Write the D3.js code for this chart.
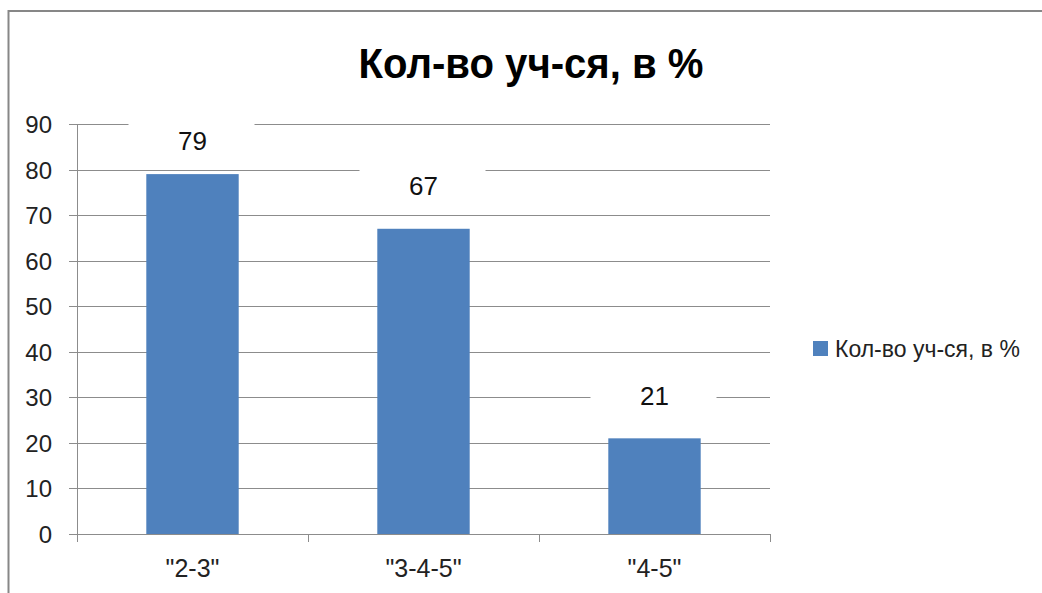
<!DOCTYPE html>
<html>
<head>
<meta charset="utf-8">
<script src="https://cdn.jsdelivr.net/npm/d3@7"></script>
<style>
  body { margin: 0; background: #fff; }
  svg { display: block; }
</style>
</head>
<body>
<div id="chart"></div>
<script>
// data
const categories = ['"2-3"', '"3-4-5"', '"4-5"'];
const values = [79, 67, 21];
const yTicks = [0, 10, 20, 30, 40, 50, 60, 70, 80, 90];
const seriesName = "Кол-во уч-ся, в %";
const title = "Кол-во уч-ся, в %";

const width = 1042;
const height = 593;
const plot = { left: 77, right: 770, top: 124, bottom: 534 };
const barColor = "#4F81BD";
const gridColor = "#8c8c8c";
const font = "'Liberation Sans', Arial, sans-serif";

const svg = d3.select("#chart").append("svg")
    .attr("width", width)
    .attr("height", height);

// outer frame
svg.append("rect")
    .attr("x", 8.5)
    .attr("y", 11)
    .attr("width", width + 20)
    .attr("height", height + 20)
    .attr("fill", "#fff")
    .attr("stroke", "#878787")
    .attr("stroke-width", 2);

svg.append("text")
    .attr("x", 531)
    .attr("y", 78)
    .attr("text-anchor", "middle")
    .style("font-family", font)
    .style("font-weight", "bold")
    .style("font-size", "42px")
    .attr("textLength", 345)
    .attr("lengthAdjust", "spacingAndGlyphs")
    .text(title);

const x = d3.scaleBand()
    .domain(categories)
    .range([plot.left, plot.right])
    .paddingInner(0.6)
    .paddingOuter(0.3);

const y = d3.scaleLinear()
    .domain([0, 90])
    .range([plot.bottom, plot.top]);

// gridlines + y ticks
const yAxis = svg.append("g")
    .attr("transform", "translate(" + plot.left + ",0)")
    .call(d3.axisLeft(y).tickValues(yTicks).tickSize(8).tickPadding(17));
yAxis.select(".domain").remove();
yAxis.selectAll(".tick line").attr("stroke", gridColor);
yAxis.selectAll(".tick text")
    .style("font-family", font)
    .style("font-size", "24px")
    .attr("fill", "#222")
    .attr("dy", "0.36em");

svg.append("g")
    .selectAll("line")
    .data(yTicks.filter(d => d > 0))
    .enter().append("line")
    .attr("x1", plot.left)
    .attr("x2", plot.right)
    .attr("y1", d => Math.round(y(d)) + 0.5)
    .attr("y2", d => Math.round(y(d)) + 0.5)
    .attr("stroke", gridColor)
    .attr("stroke-width", 1);

yAxis.selectAll(".tick").attr("transform", d => "translate(0," + (Math.round(y(d)) + 0.5) + ")");

// bars
svg.selectAll(".bar")
    .data(values)
    .enter().append("rect")
    .attr("class", "bar")
    .attr("x", (d, i) => x(categories[i]))
    .attr("width", x.bandwidth())
    .attr("y", d => y(d))
    .attr("height", d => y(0) - y(d))
    .attr("fill", barColor);

// axes lines
svg.append("line")
    .attr("x1", plot.left + 0.5).attr("x2", plot.left + 0.5)
    .attr("y1", plot.top).attr("y2", plot.bottom + 8)
    .attr("stroke", gridColor);
svg.append("line")
    .attr("x1", plot.left - 8).attr("x2", plot.right)
    .attr("y1", plot.bottom + 0.5).attr("y2", plot.bottom + 0.5)
    .attr("stroke", gridColor);

const step = (plot.right - plot.left) / categories.length;
svg.append("g")
    .selectAll("line")
    .data(categories)
    .enter().append("line")
    .attr("x1", (d, i) => Math.round(plot.left + step * (i + 1)) + 0.5)
    .attr("x2", (d, i) => Math.round(plot.left + step * (i + 1)) + 0.5)
    .attr("y1", plot.bottom)
    .attr("y2", plot.bottom + 8)
    .attr("stroke", gridColor);

// category labels
svg.append("g")
    .selectAll("text")
    .data(categories)
    .enter().append("text")
    .attr("x", d => x(d) + x.bandwidth() / 2)
    .attr("y", 577)
    .attr("text-anchor", "middle")
    .style("font-family", font)
    .style("font-size", "25px")
    .attr("fill", "#222")
    .text(d => d);

// data labels with white boxes
const labelY = d => Math.max(y(d) - 43, plot.top + 17);
const labels = svg.append("g")
    .selectAll("g")
    .data(values)
    .enter().append("g")
    .attr("transform", (d, i) => "translate(" + (x(categories[i]) + x.bandwidth() / 2) + "," + labelY(d) + ")");
labels.append("rect")
    .attr("x", -64)
    .attr("y", -28)
    .attr("width", 126)
    .attr("height", 56)
    .attr("fill", "#fff");
labels.append("text")
    .attr("text-anchor", "middle")
    .attr("dy", "0.36em")
    .style("font-family", font)
    .style("font-size", "26px")
    .attr("fill", "#111")
    .text(d => d);

// legend
const legend = svg.append("g").attr("transform", "translate(813,341)");
legend.append("rect")
    .attr("width", 15)
    .attr("height", 15)
    .attr("fill", barColor);
legend.append("text")
    .attr("x", 22)
    .attr("y", 16)
    .style("font-family", font)
    .style("font-size", "23px")
    .attr("fill", "#222")
    .text(seriesName);
</script>
</body>
</html>
